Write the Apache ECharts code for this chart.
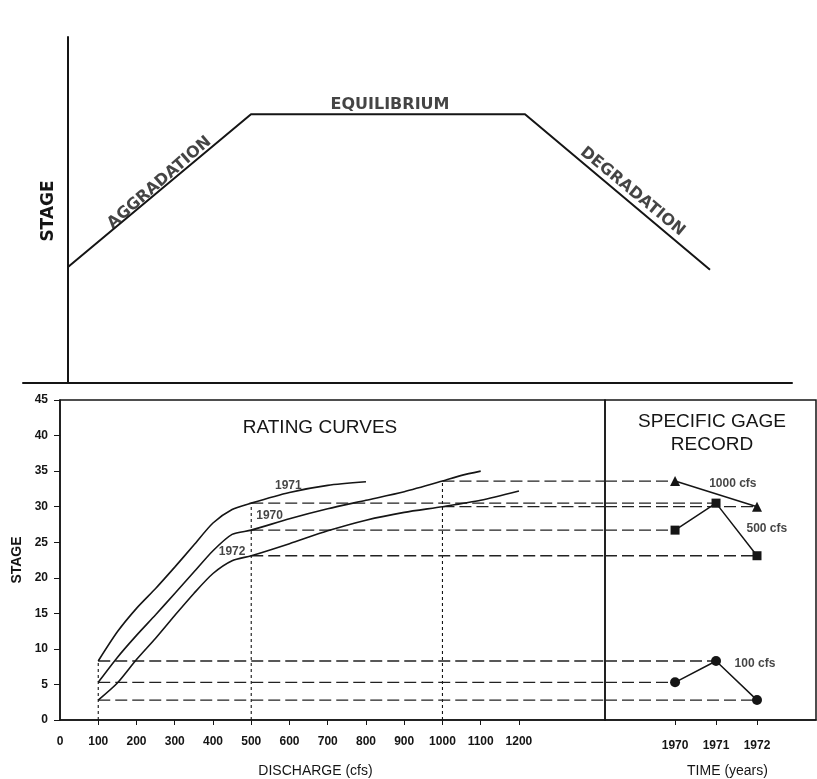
<!DOCTYPE html>
<html><head><meta charset="utf-8">
<script src="https://cdn.jsdelivr.net/npm/echarts@6/dist/echarts.min.js"></script>
<style>html,body{margin:0;padding:0;background:#fff}#c{width:817px;height:779px}</style>
</head><body><div id="c"></div>
<script>
// ---- top schematic (stage vs time, arbitrary units) ----
const schemTime  = [0, 18.3, 45.7, 64.2];
const schemStage = [33.5, 77.7, 77.7, 32.7];
const schemLabels     = ['AGGRADATION', 'EQUILIBRIUM', 'DEGRADATION'];
const schemLabelTime  = [9.15, 32.2, 56.45];
const schemLabelStage = [57.9, 80.3, 55.3];
const schemLabelAngle = [41, 0, -39.5];

// ---- rating curves (discharge cfs, stage) ----
const q1970 = [100,150,200,250,300,350,400,450,500,600,700,800,900,1000,1050,1100];
const s1970 = [5.3,8.8,11.9,14.8,17.8,20.8,23.8,26.1,26.7,28.3,29.7,30.9,32.1,33.6,34.4,35.0];
const q1971 = [100,150,200,250,300,350,400,450,500,600,700,800];
const s1971 = [8.3,12.4,15.7,18.5,21.5,24.6,27.7,29.6,30.5,32.0,33.0,33.5];
const q1972 = [100,150,200,250,300,350,400,450,500,600,700,800,900,1000,1100,1200];
const s1972 = [2.8,5.2,8.5,11.5,14.7,17.8,20.6,22.4,23.1,24.8,26.6,28.1,29.2,30.0,30.9,32.2];
const curveLabelNames = ['1971', '1970', '1972'];
const curveLabelQ     = [597, 548, 450];
const curveLabelS     = [32.9, 28.7, 23.6];

// ---- specific gage record ----
const gageYears = [1970, 1971, 1972];
const gageQ     = [1000, 500, 100];
const gage1000  = [33.6, null, 30.0];
const gage500   = [26.7, 30.5, 23.1];
const gage100   = [5.3, 8.3, 2.8];
const gageLabelNames = ['1000 cfs', '500 cfs', '100 cfs'];
const gageLabelYear  = [1971.41, 1972.24, 1971.95];
const gageLabelStage = [33.2, 26.9, 7.9];
const gageSymbols    = ['triangle', 'rect', 'circle'];

// ---- axis ticks ----
const dischargeTicks = [0,100,200,300,400,500,600,700,800,900,1000,1100,1200];
const yearTicks = [1970, 1971, 1972];
const stageMin = 0, stageMax = 45, stageStep = 5;
const qMax = 1425, yearMin = 1968.29, yearMax = 1973.44;

const FONT = 'Liberation Sans, Arial, Helvetica, sans-serif';
const WIDE = 'DejaVu Sans, sans-serif';
const INK = '#151515';

const gageSets = [gage1000, gage500, gage100];
const series = [];

// top trapezoid
series.push({type:'line', xAxisIndex:0, yAxisIndex:0, symbol:'none', silent:true,
  data: schemTime.map((t,i)=>[t, schemStage[i]]),
  lineStyle:{color:INK, width:2}});
series.push({type:'scatter', xAxisIndex:0, yAxisIndex:0, symbolSize:0, silent:true,
  itemStyle:{color:'rgba(0,0,0,0)'},
  data: schemLabels.map((n,i)=>({value:[schemLabelTime[i], schemLabelStage[i]], name:n,
    label:{show:true, position:'inside', rotate:schemLabelAngle[i], formatter:n,
      fontFamily:WIDE, fontWeight:'bold', fontSize:i===1?16:16, color:INK}}))});

// vertical dotted guide lines at each gage discharge
gageQ.forEach((q,k)=>{
  const top = Math.max(...gageSets[k].filter(v=>v!=null));
  series.push({type:'line', xAxisIndex:1, yAxisIndex:1, symbol:'none', silent:true,
    data:[[q,0],[q,top]], lineStyle:{color:INK, width:1.1, type:[3,3]}});
});

// horizontal dashed transfer lines
gageQ.forEach((q,k)=>{
  gageSets[k].forEach((s,j)=>{
    if (s==null) return;
    series.push({type:'line', xAxisIndex:1, yAxisIndex:1, symbol:'none', silent:true,
      data:[[q,s],[qMax,s]], lineStyle:{color:'#222', width:1.3, type:[12,5]}});
    series.push({type:'line', xAxisIndex:2, yAxisIndex:2, symbol:'none', silent:true,
      data:[[yearMin,s],[gageYears[j],s]], lineStyle:{color:'#222', width:1.3, type:[12,5]}});
  });
});

// rating curves
[[q1970,s1970],[q1971,s1971],[q1972,s1972]].forEach(([q,s])=>{
  series.push({type:'line', xAxisIndex:1, yAxisIndex:1, symbol:'none', smooth:0.25, silent:true,
    data:q.map((v,i)=>[v,s[i]]), lineStyle:{color:INK, width:1.6}});
});
series.push({type:'scatter', xAxisIndex:1, yAxisIndex:1, symbolSize:0, silent:true,
  itemStyle:{color:'rgba(0,0,0,0)'},
  data: curveLabelNames.map((n,i)=>({value:[curveLabelQ[i], curveLabelS[i]]})),
  label:{show:true, position:'inside', formatter:(p)=>curveLabelNames[p.dataIndex],
    fontFamily:FONT, fontWeight:'bold', fontSize:12, color:INK}});

// gage record lines
gageSets.forEach((arr,k)=>{
  const d = [];
  arr.forEach((s,j)=>{ if (s!=null) d.push([gageYears[j], s]); });
  series.push({type:'line', xAxisIndex:2, yAxisIndex:2, symbol:gageSymbols[k],
    symbolSize: k===0?10:(k===1?9:10), silent:true, data:d,
    itemStyle:{color:INK}, lineStyle:{color:INK, width:1.5}});
});
series.push({type:'scatter', xAxisIndex:2, yAxisIndex:2, symbolSize:0, silent:true,
  itemStyle:{color:'rgba(0,0,0,0)'},
  data: gageLabelNames.map((n,i)=>({value:[gageLabelYear[i], gageLabelStage[i]]})),
  label:{show:true, position:'inside', formatter:(p)=>gageLabelNames[p.dataIndex],
    fontFamily:FONT, fontWeight:'bold', fontSize:12, color:INK}});

const noSplit = {show:false};
const option = {
  backgroundColor:'#ffffff',
  animation:false,
  textStyle:{fontFamily:FONT},
  grid:[
    {left:23, right:25, top:37, bottom:396, outerBoundsMode:'none', containLabel:false},
    {left:60, right:212, top:400, bottom:59, show:true, borderColor:INK, borderWidth:1.5, outerBoundsMode:'none', containLabel:false},
    {left:605, right:1, top:400, bottom:59, show:true, borderColor:INK, borderWidth:1.5, outerBoundsMode:'none', containLabel:false}
  ],
  xAxis:[
    {gridIndex:0, type:'value', min:-4.5, max:72.4, axisLine:{onZero:true, lineStyle:{color:INK, width:2}},
      axisTick:{show:false}, axisLabel:{show:false}, splitLine:noSplit},
    {gridIndex:1, type:'value', min:0, max:qMax, interval:100,
      axisLine:{onZero:false, lineStyle:{color:INK, width:1.5}},
      axisTick:{show:true, length:5, customValues:dischargeTicks.slice(1), lineStyle:{color:INK}},
      axisLabel:{customValues:dischargeTicks, fontWeight:'bold', fontSize:12, color:INK, margin:16,
        formatter:(v)=> v<=1200 ? String(v) : ''},
      splitLine:noSplit,
      name:'DISCHARGE (cfs)', nameLocation:'middle', nameGap:44,
      nameTextStyle:{fontSize:14, color:INK, padding:[0,34,0,0]}},
    {gridIndex:2, type:'value', min:yearMin, max:yearMax,
      axisLine:{onZero:false, lineStyle:{color:INK, width:1.5}},
      axisTick:{show:true, length:5, customValues:yearTicks, lineStyle:{color:INK}},
      axisLabel:{customValues:yearTicks, fontWeight:'bold', fontSize:12, color:INK, margin:20,
        formatter:(v)=>String(Math.round(v))},
      splitLine:noSplit,
      name:'TIME (years)', nameLocation:'middle', nameGap:44,
      nameTextStyle:{fontSize:14, color:INK, padding:[0,0,0,34]}}
  ],
  yAxis:[
    {gridIndex:0, type:'value', min:0, max:100, axisLine:{show:true, onZero:true, lineStyle:{color:INK, width:2}},
      axisTick:{show:false}, axisLabel:{show:false}, splitLine:noSplit},
    {gridIndex:1, type:'value', min:stageMin, max:stageMax, interval:stageStep,
      axisLine:{show:true, onZero:false, lineStyle:{color:INK, width:1.5}},
      axisTick:{show:true, length:6, lineStyle:{color:INK}},
      axisLabel:{fontWeight:'bold', fontSize:12, color:INK, margin:12},
      splitLine:noSplit,
      name:'STAGE', nameLocation:'middle', nameRotate:90, nameGap:34,
      nameTextStyle:{fontWeight:'bold', fontSize:14, color:INK}},
    {gridIndex:2, type:'value', min:stageMin, max:stageMax, interval:stageStep, show:false, splitLine:noSplit}
  ],
  graphic:[
    {type:'text', x:49, y:211, rotation:Math.PI/2, silent:true,
      style:{text:'STAGE', fontFamily:WIDE, fontWeight:'bold', fontSize:17, fill:INK, align:'center', verticalAlign:'middle'}},
    {type:'text', x:320, y:428, silent:true,
      style:{text:'RATING CURVES', fontFamily:FONT, fontSize:19, fill:INK, align:'center', verticalAlign:'middle'}},
    {type:'text', x:712, y:433, silent:true,
      style:{text:'SPECIFIC GAGE\nRECORD', fontFamily:FONT, fontSize:19, lineHeight:23, fill:INK, align:'center', verticalAlign:'middle'}}
  ],
  series
};
const chart = echarts.init(document.getElementById('c'), null, {renderer:'canvas'});
chart.setOption(option);
</script></body></html>
